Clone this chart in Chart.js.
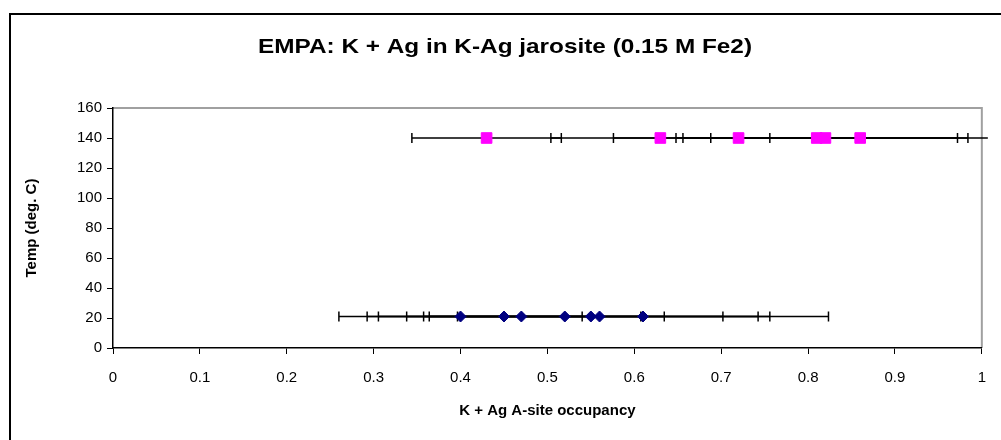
<!DOCTYPE html>
<html>
<head>
<meta charset="utf-8">
<script src="https://cdn.jsdelivr.net/npm/chart.js@4.4.1/dist/chart.umd.min.js"></script>
<style>
html,body{margin:0;padding:0;background:#fff;}
#wrap{width:1001px;height:440px;position:relative;}
</style>
</head>
<body>
<div id="wrap"><canvas id="c"></canvas></div>
<script>
const chartTitle = 'EMPA: K + Ag in K-Ag jarosite (0.15 M Fe2)';
const xAxisTitle = 'K + Ag A-site occupancy';
const yAxisTitle = 'Temp (deg. C)';
const xTickLabels = ['0','0.1','0.2','0.3','0.4','0.5','0.6','0.7','0.8','0.9','1'];
const yTickLabels = ['0','20','40','60','80','100','120','140','160'];

// Series 1: navy diamonds (room temperature)
const lowX   = [0.40, 0.45, 0.47, 0.52, 0.55, 0.56, 0.61];
const lowY   = [21, 21, 21, 21, 21, 21, 21];
const lowErr = [0.14, 0.1575, 0.1645, 0.182, 0.1925, 0.196, 0.2135];

// Series 2: magenta squares (140 C)
const highX   = [0.43, 0.63, 0.72, 0.81, 0.82, 0.86];
const highY   = [140, 140, 140, 140, 140, 140];
const highErr = [0.086, 0.126, 0.144, 0.162, 0.164, 0.172];

const FONT = '"Liberation Sans", Arial, sans-serif';

const framePlugin = {
  id: 'frame',
  beforeDraw(chart) {
    const ctx = chart.ctx, a = chart.chartArea;
    ctx.save();
    ctx.fillStyle = '#fff';
    ctx.fillRect(0, 0, chart.width, chart.height);
    // outer chart border
    ctx.strokeStyle = '#000';
    ctx.lineWidth = 2;
    ctx.beginPath();
    ctx.moveTo(10, chart.height + 5);
    ctx.lineTo(10, 14);
    ctx.lineTo(chart.width + 5, 14);
    ctx.stroke();
    // plot area top/right border (gray)
    ctx.strokeStyle = '#a0a0a0';
    ctx.lineWidth = 2;
    ctx.beginPath();
    ctx.moveTo(a.left, a.top);
    ctx.lineTo(a.right, a.top);
    ctx.lineTo(a.right, a.bottom);
    ctx.stroke();
    ctx.restore();
  },
  afterDraw(chart) {
    const ctx = chart.ctx;
    ctx.save();
    ctx.font = 'bold 21px ' + FONT;
    ctx.fillStyle = '#000';
    ctx.textAlign = 'center';
    ctx.textBaseline = 'middle';
    const w = ctx.measureText(chartTitle).width;
    const target = 494;
    ctx.translate(505, 47);
    ctx.scale(target / w, 1);
    ctx.fillText(chartTitle, 0, 0);
    ctx.restore();
  }
};

const errorBarPlugin = {
  id: 'errorBars',
  beforeDatasetsDraw(chart) {
    const ctx = chart.ctx, xs = chart.scales.x, ys = chart.scales.y, a = chart.chartArea;
    ctx.save();
    ctx.beginPath();
    ctx.rect(a.left - 2, a.top - 20, a.right - a.left + 8, a.bottom - a.top + 40);
    ctx.clip();
    ctx.strokeStyle = '#000';
    ctx.lineWidth = 1.5;
    chart.data.datasets.forEach(ds => {
      ds.data.forEach((p, i) => {
        const e = ds.xErr[i];
        const y = ys.getPixelForValue(p.y);
        const x1 = xs.getPixelForValue(p.x - e);
        const x2 = xs.getPixelForValue(p.x + e);
        ctx.beginPath();
        ctx.moveTo(x1, y); ctx.lineTo(x2, y);
        ctx.moveTo(x1, y - 5); ctx.lineTo(x1, y + 5);
        ctx.moveTo(x2, y - 5); ctx.lineTo(x2, y + 5);
        ctx.stroke();
      });
    });
    ctx.restore();
  }
};

const toPoints = (xs, ys) => xs.map((x, i) => ({x: x, y: ys[i]}));

new Chart(document.getElementById('c'), {
  type: 'scatter',
  data: {
    datasets: [
      {
        label: 'Room temperature',
        data: toPoints(lowX, lowY),
        xErr: lowErr,
        pointStyle: 'rectRot',
        pointRadius: 5.5,
        pointHoverRadius: 5.5,
        backgroundColor: '#000080',
        borderColor: '#000080',
        borderWidth: 1
      },
      {
        label: '140 C',
        data: toPoints(highX, highY),
        xErr: highErr,
        pointStyle: 'rect',
        pointRadius: 7.5,
        pointHoverRadius: 7.5,
        backgroundColor: '#ff00ff',
        borderColor: '#ff00ff',
        borderWidth: 1
      }
    ]
  },
  options: {
    responsive: true,
    maintainAspectRatio: false,
    animation: false,
    devicePixelRatio: 1,
    layout: { padding: { left: 10, right: 17, top: 108, bottom: 0 } },
    plugins: {
      legend: { display: false },
      tooltip: { enabled: false },
      title: { display: false }
    },
    scales: {
      x: {
        type: 'linear',
        min: 0, max: 1,
        ticks: {
          stepSize: 0.1, autoSkip: false, maxRotation: 0, color: '#000',
          font: { family: FONT, size: 15 }, padding: 15,
          callback: (v, i) => xTickLabels[i]
        },
        grid: { drawOnChartArea: false, drawTicks: true, tickLength: 6, color: '#000', lineWidth: 1 },
        border: { color: '#000', width: 1.5 },
        title: {
          display: true, text: xAxisTitle, color: '#000',
          font: { family: FONT, size: 15, weight: 'bold' },
          padding: { top: 0, bottom: 20 }
        },
        afterFit: s => { s.height = 92; }
      },
      y: {
        type: 'linear',
        min: 0, max: 160,
        ticks: {
          stepSize: 20, autoSkip: false, color: '#000',
          font: { family: FONT, size: 15 }, padding: 5,
          callback: (v, i) => yTickLabels[i]
        },
        grid: { drawOnChartArea: false, drawTicks: true, tickLength: 6, color: '#000', lineWidth: 1 },
        border: { color: '#000', width: 1.5 },
        title: {
          display: true, text: yAxisTitle, color: '#000',
          font: { family: FONT, size: 15, weight: 'bold' },
          padding: { top: 13, bottom: 0 }
        },
        afterFit: s => { s.width = 103; }
      }
    }
  },
  plugins: [framePlugin, errorBarPlugin]
});
</script>
</body>
</html>
